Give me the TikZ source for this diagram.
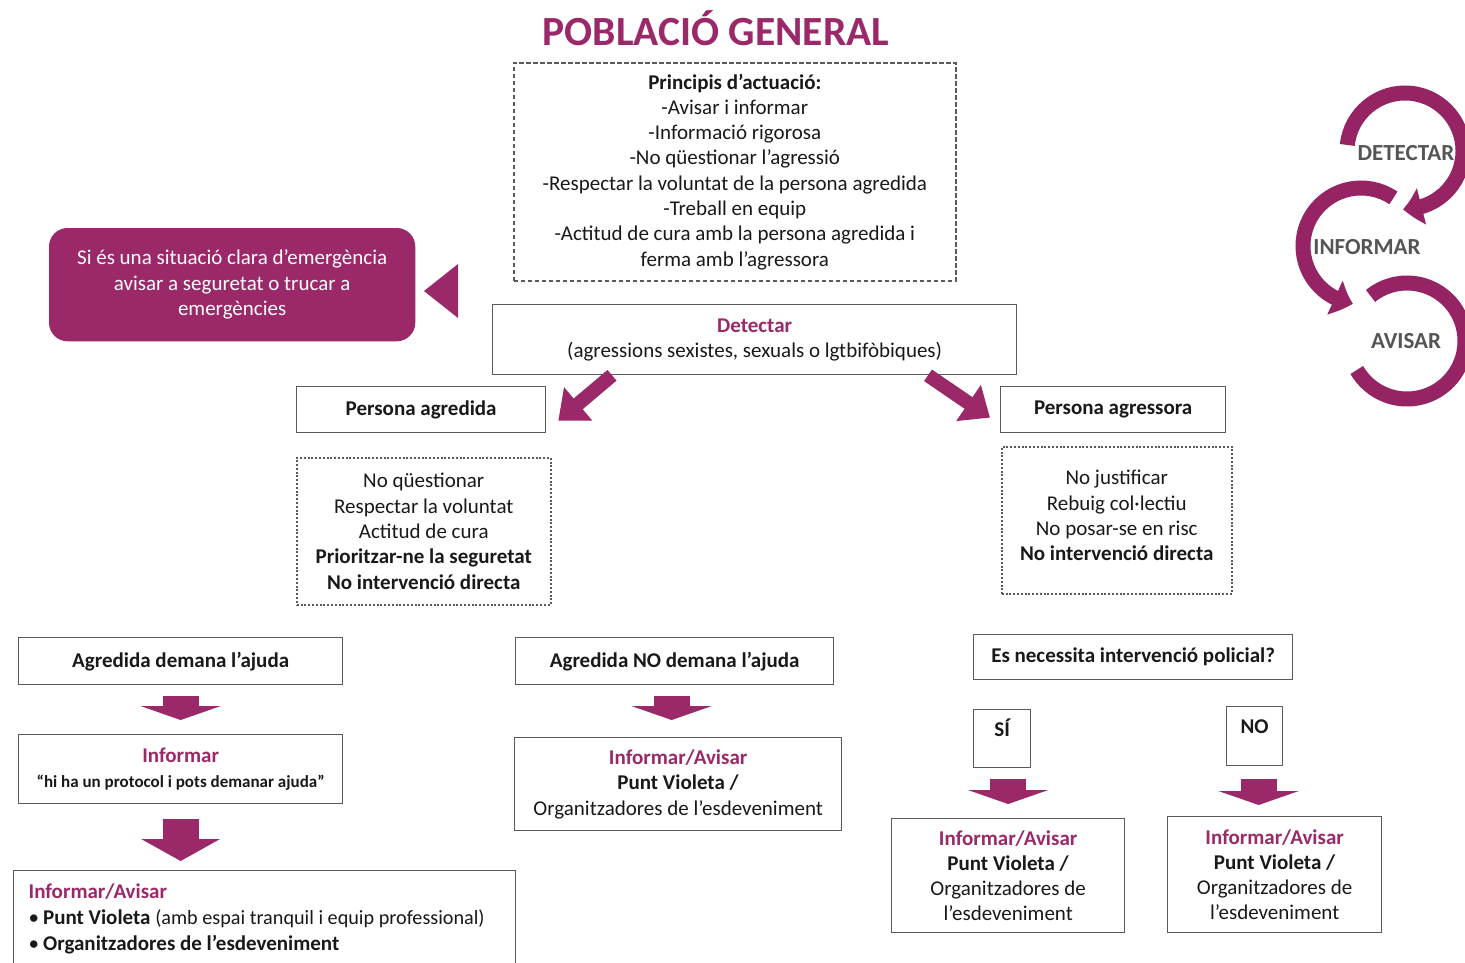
\documentclass[tikz,border=0pt]{standalone}
\usepackage{fontspec}
\setmainfont{Carlito}
\usetikzlibrary{arrows.meta,bending,calc}
\definecolor{pur}{RGB}{155,40,105}
\definecolor{cyc}{RGB}{150,35,100}
\definecolor{brd}{RGB}{90,90,90}
\definecolor{txt}{RGB}{25,25,25}
\definecolor{lbl}{RGB}{85,85,85}
\newcommand{\bodyfont}{\fontsize{21}{25.3}\selectfont}
\begin{document}
\begin{tikzpicture}[x=1pt,y=1pt,
  every node/.style={font=\bodyfont, text=txt},
  box/.style={draw=brd, line width=1.3pt, inner sep=0pt, align=center, anchor=north west},
  bbox/.style={box, font=\bodyfont\bfseries},
  dashbox/.style={box, line width=1.6pt, dash pattern=on 4.5pt off 2.5pt},
  dotbox/.style={box, line width=1.5pt, dash pattern=on 2pt off 1.8pt},
  blk/.style={draw=pur, color=pur, line width=36pt, -{Triangle[width=80pt,length=14pt]}},
  bigblk/.style={draw=pur, color=pur, line width=36pt, -{Triangle[width=78pt,length=22pt]}},
  diag/.style={draw=pur, color=pur, line width=14pt, -{Triangle[width=42pt,length=26pt]}},
  cycarc/.style={draw=cyc, color=cyc, line width=15pt},
  cyctip/.style={-{Triangle[width=36pt,length=19pt,bend]}},
  cyclbl/.style={font=\fontsize{23}{26}\selectfont\bfseries, text=lbl}]
\useasboundingbox (0,0) rectangle (1465,-962);
\clip (0,0) rectangle (1465,-962);
\fill[white] (0,0) rectangle (1465,-962);

% title
\node[font=\fontsize{41.5}{45}\selectfont\bfseries, text=pur] (title) at (716,-28) {POBLACIÓ GENERAL};

% principles
\node[dashbox, minimum width=442pt, minimum height=218pt] (prin) at (513,-62)
 {\textbf{Principis d’actuació:}\\-Avisar i informar\\-Informació rigorosa\\-No qüestionar l’agressió\\-Respectar la voluntat de la persona agredida\\-Treball en equip\\-Actitud de cura amb la persona agredida i\\ferma amb l’agressora};

% emergency
\node[box, draw=pur, fill=pur, rounded corners=18pt, text=white, minimum width=365pt, minimum height=112pt] (emer) at (49,-228)
 {Si és una situació clara d’emergència\\avisar a seguretat o trucar a\\emergències};
\fill[pur] (424,-291) -- (458,-264) -- (458,-318) -- cycle;

% detect
\node[box, minimum width=524pt, minimum height=70pt] (det) at (492,-304)
 {{\color{pur}\bfseries Detectar}\\(agressions sexistes, sexuals o lgtbifòbiques)};

\node[bbox, minimum width=249pt, minimum height=46pt] (agr) at (296,-386) {Persona agredida};
\node[bbox, minimum width=225pt, minimum height=46pt] (agg) at (1000,-386) {Persona agressora};

\draw[diag] ([xshift=120pt]det.south west) -- ([xshift=12pt,yshift=-11pt]agr.east);
\draw[diag] ([xshift=436pt]det.south west) -- ([xshift=-10pt,yshift=-8pt]agg.west);

\node[dotbox, minimum width=254pt, minimum height=147pt] (dl) at (296,-457)
 {No qüestionar\\Respectar la voluntat\\Actitud de cura\\\textbf{Prioritzar-ne la seguretat}\\\textbf{No intervenció directa}};
\node[dotbox, minimum width=230pt, minimum height=147pt] (dr) at (1001,-446)
 {No justificar\\Rebuig col·lectiu\\No posar-se en risc\\\textbf{No intervenció directa}\\[-16pt]\mbox{}};

% left column
\node[bbox, minimum width=324pt, minimum height=47pt] (dem) at (18,-637) {Agredida demana l’ajuda};
\node[box, minimum width=324pt, minimum height=69pt] (inf) at (18,-734)
 {{\color{pur}\bfseries Informar}\\{\fontsize{17}{20}\selectfont\bfseries “hi ha un protocol i pots demanar ajuda”}};
\node[box, align=flush left, text width=472pt, inner xsep=15pt, minimum height=96pt] (bot) at (13,-870)
 {{\color{pur}\bfseries Informar/Avisar}\\[1pt]•\hspace{4pt}\textbf{Punt Violeta} {\fontsize{20.2}{25.3}\selectfont(amb espai tranquil i equip professional)}\\•\hspace{4pt}\textbf{Organitzadores de l’esdeveniment}};
\draw[blk, shorten <=11pt, shorten >=14pt] (dem.south) -- (inf.north);
\draw[bigblk, shorten <=15pt, shorten >=9pt] (inf.south) -- (bot.north -| inf.south);

% middle column
\node[bbox, minimum width=318pt, minimum height=47pt] (nodem) at (515,-637) {Agredida NO demana l’ajuda};
\node[box, minimum width=327pt, minimum height=93pt] (nav) at (514,-737)
 {{\color{pur}\bfseries Informar/Avisar}\\\textbf{Punt Violeta /}\\Organitzadores de l’esdeveniment};
\draw[blk, shorten <=11pt, shorten >=17pt] ([xshift=-3pt]nodem.south) -- ([xshift=-3pt]nodem.south |- nav.north);

% right column
\node[bbox, minimum width=319pt, minimum height=45pt] (pol) at (973,-634) {Es necessita intervenció policial?};
\node[bbox, minimum width=57pt, minimum height=58pt, text height=13pt, text depth=18pt] (si) at (973,-709) {SÍ};
\node[bbox, minimum width=56pt, minimum height=59pt, text height=13pt, text depth=18pt] (no) at (1226,-706) {NO};
\node[box, minimum width=233pt, minimum height=114pt] (sires) at (891,-818)
 {{\color{pur}\bfseries Informar/Avisar}\\\textbf{Punt Violeta /}\\Organitzadores de\\l’esdeveniment};
\node[box, minimum width=214pt, minimum height=116pt] (nores) at (1167,-816)
 {{\color{pur}\bfseries Informar/Avisar}\\\textbf{Punt Violeta /}\\Organitzadores de\\l’esdeveniment};
\draw[blk, shorten <=11pt, shorten >=14pt] (si.south -| sires.north) -- (sires.north);
\draw[blk, shorten <=13pt, shorten >=11pt] ([xshift=4pt]no.south) -- ([xshift=4pt]no.south |- nores.north);

% cycle
\coordinate (C1) at (1405,-151);
\coordinate (C2) at (1361,-246);
\coordinate (C3) at (1407,-341);
\draw[cycarc] (C3) ++(129:58) arc[start angle=129, end angle=-150, radius=58];
\draw[cycarc, cyctip] (C2) ++(56:58) arc[start angle=56, end angle=262, radius=58];
\draw[cycarc, cyctip] (C1) ++(174:58) arc[start angle=174, end angle=-92, radius=58];
\node[cyclbl] (ldet) at (1406,-153) {DETECTAR};
\node[cyclbl] (linf) at (1367,-247) {INFORMAR};
\node[cyclbl] (lavi) at (1406,-341) {AVISAR};
\end{tikzpicture}
\end{document}
